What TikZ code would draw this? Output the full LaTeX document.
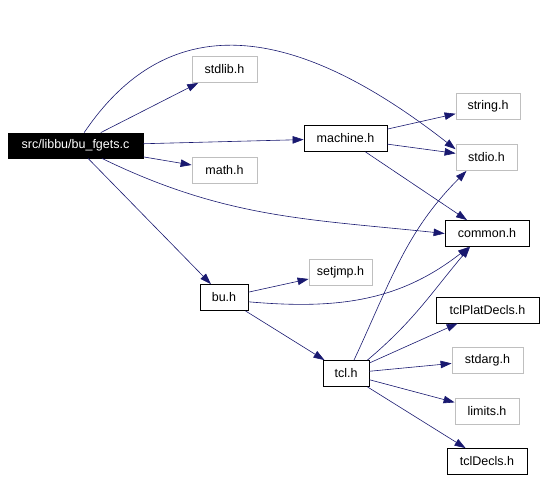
\documentclass[tikz,border=0pt]{standalone}
\usepackage{fontspec}
\setmainfont{Liberation Sans}
\usetikzlibrary{arrows.meta}
\definecolor{edgeblue}{RGB}{25,25,112}
\definecolor{sysgray}{RGB}{191,191,191}
\begin{document}
\begin{tikzpicture}[x = 1pt, y = 1pt,
	file/.style = {draw, line width = 0.8pt, inner sep = 0pt, minimum height = 26pt, font = \fontsize{12.5}{14}\selectfont},
	sysfile/.style = {file, draw = sysgray},
	mainfile/.style = {file, fill = black, text = white},
	dep/.style = {draw = edgeblue, line width = 0.6pt, -{Triangle[length = 11pt, width = 7.5pt]}}]
	\useasboundingbox (0, 0) rectangle (544, 480);
	\node[mainfile, minimum width = 135pt, minimum height = 25pt] (fgets) at (75.5, 334.5) {src/libbu/bu\_fgets.c};
	\node[sysfile, minimum width = 65pt] (stdlib) at (224.5, 410.5) {stdlib.h};
	\node[sysfile, minimum width = 65pt] (math) at (224.5, 309.5) {math.h};
	\node[file, minimum width = 83pt] (machine) at (345.5, 341.5) {machine.h};
	\node[sysfile, minimum width = 64pt] (string) at (488, 373.5) {string.h};
	\node[sysfile, minimum width = 61pt] (stdio) at (486.5, 322.5) {stdio.h};
	\node[file, minimum width = 84pt] (common) at (487, 246.5) {common.h};
	\node[file, minimum width = 48pt] (bu) at (224, 182.5) {bu.h};
	\node[sysfile, minimum width = 63pt] (setjmp) at (340.5, 208) {setjmp.h};
	\node[file, minimum width = 103pt] (tclplat) at (487.5, 170) {tclPlatDecls.h};
	\node[sysfile, minimum width = 71pt] (stdarg) at (487.5, 120) {stdarg.h};
	\node[file, minimum width = 46pt] (tcl) at (346, 106.5) {tcl.h};
	\node[sysfile, minimum width = 64pt] (limits) at (487, 69) {limits.h};
	\node[file, minimum width = 80pt] (tcldecls) at (487, 18.5) {tclDecls.h};
	\foreach \h in {stdlib, machine, math, bu} \draw[dep] (fgets) -- (\h);
	\draw[dep] (fgets) to[out = 56, in = 142, out distance = 176pt, in distance = 166pt] (stdio.165);
	\draw[dep] (fgets) to[out = -26, in = 174] (common.west);
	\foreach \h in {string, stdio, common} \draw[dep] (machine) -- (\h);
	\draw[dep] (bu) -- (setjmp);
	\draw[dep] (bu) -- (tcl);
	\draw[dep] (bu.-10) to[out = -5, in = 218] ([xshift = -18pt]common.south);
	\draw[dep] ([xshift = 8pt]tcl.north) to[out = 65, in = 225] ([xshift = -20pt]stdio.south);
	\draw[dep] ([xshift = -2pt]tcl.north east) to[out = 40, in = 230] ([xshift = -17pt]common.south);
	\foreach \h in {tclplat, stdarg, limits, tcldecls} \draw[dep] (tcl) -- (\h);
\end{tikzpicture}
\end{document}
